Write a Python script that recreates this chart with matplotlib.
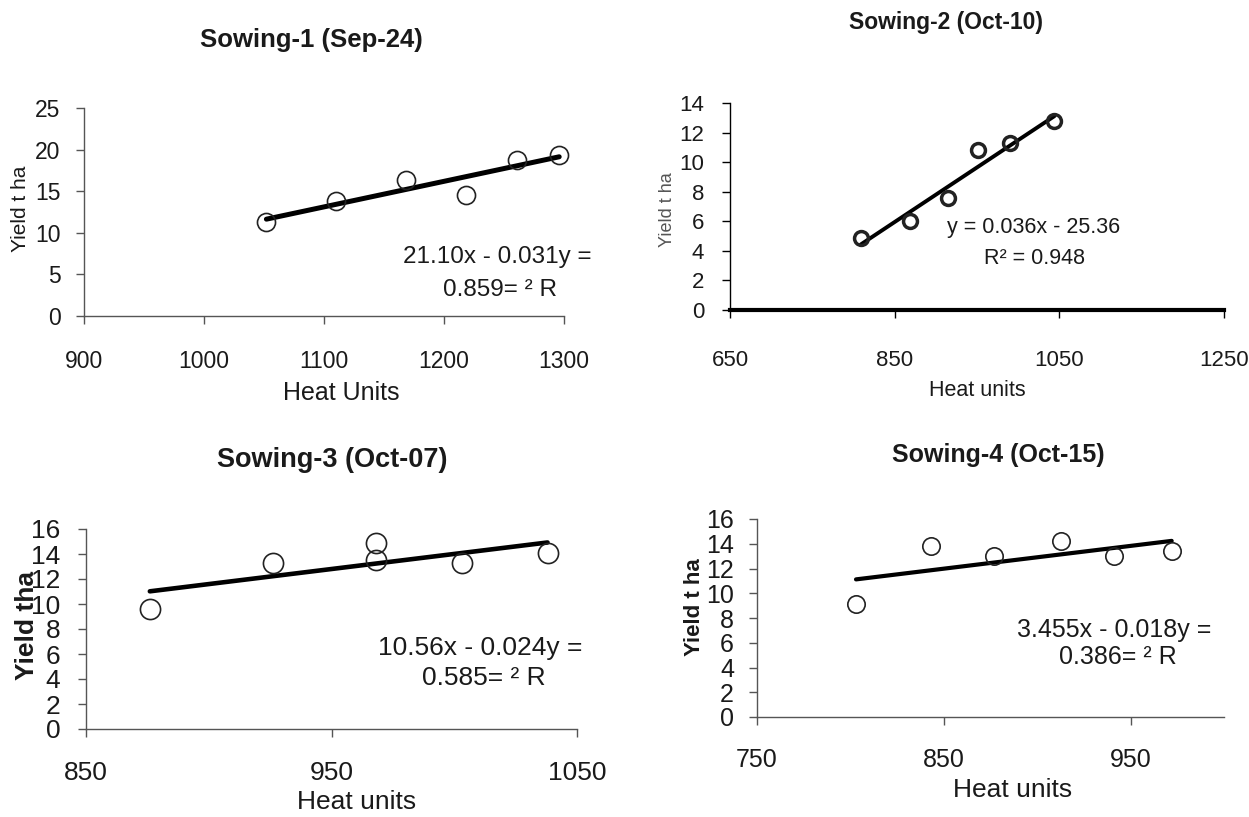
import numpy as np
import matplotlib
matplotlib.use("Agg")
import matplotlib.pyplot as plt

plt.rcParams['font.family'] = ['Liberation Sans', 'DejaVu Sans']

# ---------------- data ----------------
s1_heat = [1052, 1110, 1168, 1218, 1261, 1296]
s1_yield = [11.3, 13.8, 16.4, 14.6, 18.8, 19.3]

s2_heat = [809, 869, 915, 951, 990, 1044]
s2_yield = [4.85, 6.0, 7.6, 10.8, 11.3, 12.8]

s3_heat = [876, 926, 968, 968, 1003, 1038]
s3_yield = [9.6, 13.3, 14.9, 13.5, 13.3, 14.1]

s4_heat = [803, 843, 877, 913, 941, 972]
s4_yield = [9.1, 13.8, 13.0, 14.2, 13.0, 13.4]

titles = ["Sowing-1 (Sep-24)", "Sowing-2 (Oct-10)", "Sowing-3 (Oct-07)", "Sowing-4 (Oct-15)"]
xlabels = ["Heat Units", "Heat units", "Heat units", "Heat units"]
ylabels = ["Yield t ha", "Yield t ha", "Yield tha", "Yield t ha"]
eq_lines = [
    ["21.10x - 0.031y =", "0.859= \u00b2 R"],
    ["y = 0.036x - 25.36", "R\u00b2 = 0.948"],
    ["10.56x - 0.024y =", "0.585= \u00b2 R"],
    ["3.455x - 0.018y =", "0.386= \u00b2 R"],
]
x_ticks = [[900, 1000, 1100, 1200, 1300], [650, 850, 1050, 1250], [850, 950, 1050], [750, 850, 950]]
x_lims = [(900, 1300), (650, 1250), (850, 1050), (750, 1000)]
y_ticks = [list(range(0, 26, 5)), list(range(0, 15, 2)), list(range(0, 17, 2)), list(range(0, 17, 2))]
y_lims = [(0, 25), (0, 14), (0, 16), (0, 16)]

# ---------------- layout ----------------
W, H = 1249, 817
fig = plt.figure(figsize=(W / 100, H / 100), dpi=100)
fig.patch.set_facecolor('white')

def fx(x):
    return x / W

def fy(y):
    return 1 - y / H

def box(l, t, r, b):
    return [fx(l), fy(b), (r - l) / W, (b - t) / H]

ax_boxes = [box(84, 108, 564, 316), box(730, 103, 1224, 310),
            box(86, 529, 577, 729), box(757, 519, 1224, 717)]

tick_fs = [16.5, 16, 19, 18]
xpad = [18.5, 23, 17, 16.5]
ypad = [11.5, 13, 13, 11]
msize = [13, 10, 14.5, 12.5]
medge = [1.2, 2.5, 1.2, 1.2]
lwid = [3.6, 2.8, 3.3, 3.0]

title_pos = [(311, 40), (946, 23), (332, 460), (998, 455)]
title_fs = [18.5, 16.5, 19.5, 18]
xl_pos = [(341, 393), (977, 390), (357, 802), (1013, 790)]
xl_fs = [18, 15.5, 19, 19]
yl_pos = [(20, 209), (667, 210), (27, 625), (694, 607)]
yl_fs = [15, 13, 19, 16]
yl_w = ['normal', 'normal', 'bold', 'bold']
eq_pos = [[(497, 257), (500, 290)], [(1034, 227), (1034, 258)],
          [(480, 648), (484, 678)], [(1114, 630), (1118, 657)]]
eq_fs = [17.5, 15.5, 19, 18]

heats = [s1_heat, s2_heat, s3_heat, s4_heat]
yields = [s1_yield, s2_yield, s3_yield, s4_yield]
txt_col = '#1a1a1a'
fam = ['Liberation Sans', 'DejaVu Sans']

for i in range(4):
    ax = fig.add_axes(ax_boxes[i])
    ax.set_facecolor('none')
    xs = np.array(heats[i], dtype=float)
    ys = np.array(yields[i], dtype=float)
    # regression line
    k, b0 = np.polyfit(xs, ys, 1)
    xl = np.array([xs.min(), xs.max()])
    ax.plot(xl, k * xl + b0, color='black', lw=lwid[i], solid_capstyle='round', zorder=3)
    ax.plot(xs, ys, linestyle='none', marker='o', markersize=msize[i],
            markerfacecolor='none', markeredgecolor='#222222', markeredgewidth=medge[i], zorder=4)
    ax.set_xlim(*x_lims[i])
    ax.set_ylim(*y_lims[i])
    ax.set_xticks(x_ticks[i])
    ax.set_yticks(y_ticks[i])
    for s in ['top', 'right']:
        ax.spines[s].set_visible(False)
    spine_col = '#000000' if i == 1 else '#555555'
    ax.spines['left'].set_color(spine_col)
    ax.spines['bottom'].set_color(spine_col)
    ax.spines['left'].set_linewidth(1.0)
    ax.spines['bottom'].set_linewidth(3.0 if i == 1 else 1.0)
    ax.tick_params(axis='x', direction='out', length=6, width=1, color=spine_col,
                   labelsize=tick_fs[i], labelcolor=txt_col, pad=xpad[i])
    ax.tick_params(axis='y', direction='out', length=5.5, width=1, color=spine_col,
                   labelsize=tick_fs[i], labelcolor=txt_col, pad=ypad[i])
    for ln in ax.lines:
        ln.set_clip_on(False)

    fig.text(fx(title_pos[i][0]), fy(title_pos[i][1]), titles[i], ha='center', va='center',
             fontsize=title_fs[i], fontweight='bold', color=txt_col, family=fam)
    fig.text(fx(xl_pos[i][0]), fy(xl_pos[i][1]), xlabels[i], ha='center', va='center',
             fontsize=xl_fs[i], color=txt_col, family=fam)
    fig.text(fx(yl_pos[i][0]), fy(yl_pos[i][1]), ylabels[i], ha='center', va='center',
             rotation=90, fontsize=yl_fs[i], fontweight=yl_w[i],
             color=('#555555' if i == 1 else txt_col), family=fam)
    for (px, py), line in zip(eq_pos[i], eq_lines[i]):
        fig.text(fx(px), fy(py), line, ha='center', va='center', fontsize=eq_fs[i],
                 color=txt_col, family=fam)

fig.savefig('out.png', dpi=100, facecolor='white')
